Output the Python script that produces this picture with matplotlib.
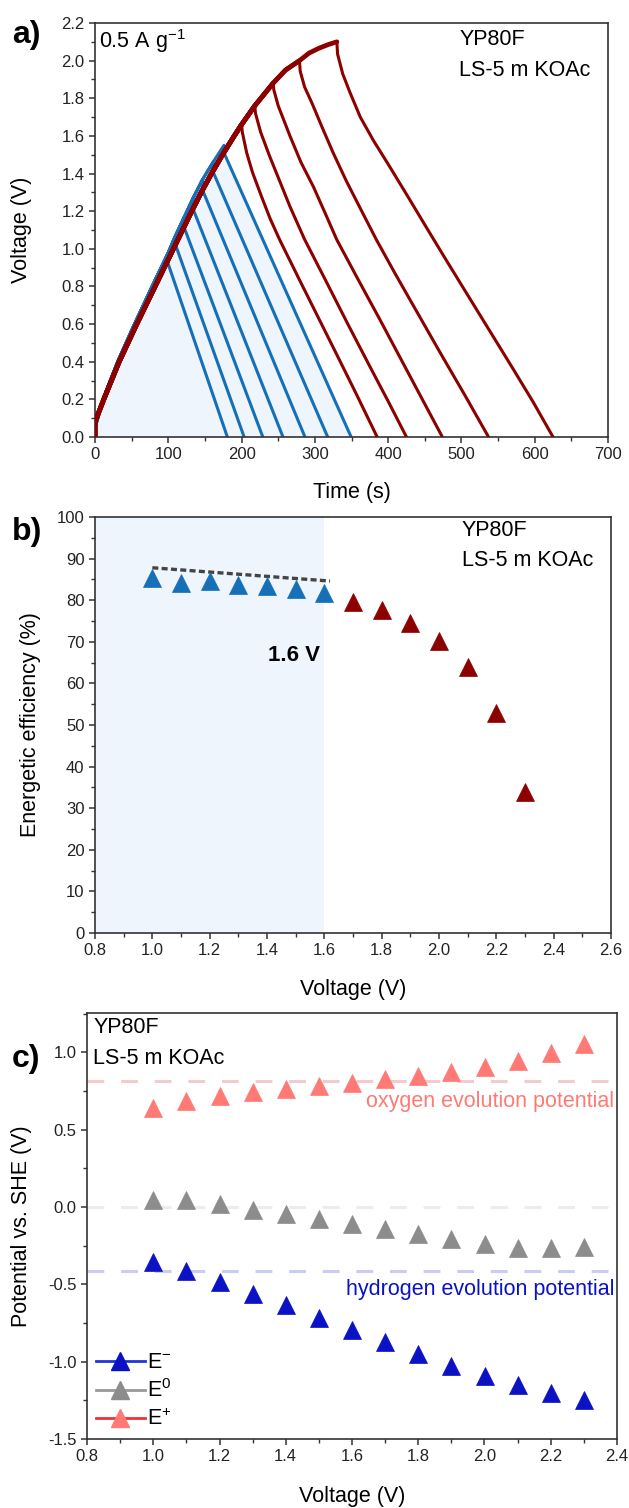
import numpy as np
import matplotlib
matplotlib.use('Agg')
import matplotlib.pyplot as plt
from matplotlib.lines import Line2D
from matplotlib.ticker import FormatStrFormatter

plt.rcParams['font.family'] = ['Liberation Sans', 'DejaVu Sans']
plt.rcParams['axes.linewidth'] = 1.2
plt.rcParams['axes.edgecolor'] = '#333333'
plt.rcParams['xtick.color'] = '#333333'
plt.rcParams['ytick.color'] = '#333333'
plt.rcParams['xtick.labelcolor'] = '#222222'
plt.rcParams['ytick.labelcolor'] = '#222222'

BLUE = '#1570b8'
DARKRED = '#8c0000'
FILL = '#eef5fc'

# ---- panel a: galvanostatic charge/discharge ----
# blue charge envelope (windows 1.0 ... 1.6 V)
blue_env_t = [0, 0, 11, 31, 54, 78, 99, 110, 122, 134, 147, 161, 176]
blue_env_v = [0, 0.05, 0.2, 0.4, 0.6, 0.8, 0.97, 1.07, 1.17, 1.27, 1.37, 1.46, 1.55]
blue_peak_t = [99, 110, 122, 134, 147, 161, 176]
blue_drop_v = [0.93, 1.02, 1.11, 1.21, 1.31, 1.41, 1.51]
blue_end_t = [180.6, 203.5, 229.0, 256.5, 286.5, 317.5, 349.5]

# red charge envelope (windows 1.7 ... 2.1 V)
red_env_t = [0, 0, 12, 33, 57, 82, 107, 132, 145, 159, 174, 190, 200, 218, 243, 260, 279, 292, 305, 318, 330]
red_env_v = [0, 0.08, 0.2, 0.4, 0.6, 0.8, 1.0, 1.2, 1.3, 1.4, 1.5, 1.6, 1.66, 1.76, 1.88, 1.95, 2.0, 2.04, 2.065, 2.085, 2.1]
red_peak_t = [200, 218, 243, 279, 330]
red_dis_t = [
    [200, 201, 207, 215, 227, 239, 252, 279, 304, 329, 357, 385],
    [218, 219, 226, 238, 252, 266, 286, 315, 345, 375, 400, 425],
    [243, 244, 250, 258, 266, 281, 298, 314, 330, 360, 390, 420, 448, 474],
    [279, 280, 286, 296, 310, 325, 343, 362, 384, 410, 440, 470, 505, 537],
    [330, 331, 338, 348, 362, 380, 400, 425, 452, 480, 510, 540, 570, 598, 625],
]
red_dis_v = [
    [1.66, 1.62, 1.51, 1.405, 1.28, 1.16, 1.048, 0.835, 0.64, 0.445, 0.225, 0],
    [1.76, 1.72, 1.62, 1.495, 1.36, 1.225, 1.05, 0.83, 0.60, 0.375, 0.19, 0],
    [1.88, 1.845, 1.76, 1.68, 1.60, 1.46, 1.33, 1.19, 1.048, 0.83, 0.615, 0.395, 0.19, 0],
    [2.0, 1.944, 1.86, 1.775, 1.645, 1.51, 1.36, 1.215, 1.048, 0.865, 0.66, 0.455, 0.22, 0],
    [2.1, 2.035, 1.93, 1.83, 1.70, 1.575, 1.45, 1.29, 1.115, 0.935, 0.745, 0.555, 0.365, 0.185, 0],
]

# ---- panel b: energetic efficiency ----
eff_v_blue = [1.0, 1.1, 1.2, 1.3, 1.4, 1.5, 1.6]
eff_blue = [85.4, 84.2, 84.6, 83.7, 83.3, 82.6, 81.8]
eff_v_red = [1.7, 1.8, 1.9, 2.0, 2.1, 2.2, 2.3]
eff_red = [79.6, 77.6, 74.6, 70.2, 64.0, 53.0, 33.9]
trend_x = [1.0, 1.62]
trend_y = [87.8, 84.6]

# ---- panel c: electrode potentials ----
cell_v = [1.0, 1.1, 1.2, 1.3, 1.4, 1.5, 1.6, 1.7, 1.8, 1.9, 2.0, 2.1, 2.2, 2.3]
e_plus = [0.642, 0.685, 0.716, 0.744, 0.765, 0.784, 0.804, 0.828, 0.845, 0.873, 0.905, 0.942, 0.998, 1.052]
e_zero = [0.047, 0.043, 0.017, -0.017, -0.047, -0.080, -0.108, -0.144, -0.172, -0.209, -0.237, -0.263, -0.263, -0.259]
e_minus = [-0.356, -0.414, -0.485, -0.560, -0.636, -0.718, -0.797, -0.873, -0.953, -1.030, -1.095, -1.153, -1.200, -1.245]
oep = 0.815
hep = -0.414

W, H = 629, 1508
fig = plt.figure(figsize=(W / 100, H / 100), dpi=100)


def box(l, t, r, b):
    return [l / W, 1 - b / H, (r - l) / W, (b - t) / H]


axa = fig.add_axes(box(95, 23, 608, 437))
axb = fig.add_axes(box(95, 517, 611, 933))
axc = fig.add_axes(box(87, 1013, 617, 1439))

TICK = 12
LAB = 15.5
ANN = 15.5

for ax in (axa, axb, axc):
    ax.tick_params(which='major', direction='out', length=4.5, width=1.1, labelsize=TICK, pad=3)
    ax.tick_params(which='minor', direction='out', length=2.8, width=1.0)

# panel a
env_t = np.array(blue_env_t)
env_v = np.array(blue_env_v)
last = len(blue_peak_t) - 1
for i, pt in enumerate(blue_peak_t):
    m = env_t <= pt
    tt = list(env_t[m]) + [pt, blue_end_t[i]]
    vv = list(env_v[m]) + [blue_drop_v[i], 0]
    if i == last:
        axa.fill(tt, vv, color=FILL, lw=0, zorder=1)
    axa.plot(tt, vv, color=BLUE, lw=2.2, zorder=2)

renv_t = np.array(red_env_t)
renv_v = np.array(red_env_v)
for i, pt in enumerate(red_peak_t):
    m = renv_t <= pt
    # overlapping charge branches look like a thicker band
    axa.plot(renv_t[m], renv_v[m], color=DARKRED, lw=3.4, zorder=3, solid_capstyle='round')
    axa.plot(red_dis_t[i], red_dis_v[i], color=DARKRED, lw=2.2, zorder=3, solid_joinstyle='round')

axa.set_xlim(0, 700)
axa.set_ylim(0, 2.2)
axa.set_xticks(np.arange(0, 701, 100))
axa.set_xticks(np.arange(0, 701, 50), minor=True)
axa.set_yticks(np.arange(0, 2.21, 0.2))
axa.set_yticks(np.arange(0, 2.21, 0.1), minor=True)
axa.yaxis.set_major_formatter(FormatStrFormatter('%.1f'))
axa.set_xlabel('Time (s)', fontsize=LAB)
axa.set_ylabel('Voltage (V)', fontsize=LAB)
axa.xaxis.set_label_coords(0.5, -0.108)
axa.yaxis.set_label_coords(-0.123, 0.5)
axa.text(6, 2.103, r'0.5 A g$^{\mathregular{-1}}$', fontsize=ANN, va='center', ha='left')
axa.text(497, 2.111, 'YP80F', fontsize=ANN, va='center', ha='left')
axa.text(497, 1.95, 'LS-5 m KOAc', fontsize=ANN, va='center', ha='left')

# panel b
axb.axvspan(0.8, 1.6, color=FILL, lw=0, zorder=0)
axb.plot(trend_x, trend_y, color='#444444', lw=2.4, dashes=(1.8, 1.0), zorder=2)
axb.plot(eff_v_blue, eff_blue, ls='none', marker='^', ms=12.5, color=BLUE, mec=BLUE, mew=0.5, zorder=3)
axb.plot(eff_v_red, eff_red, ls='none', marker='^', ms=12.5, color=DARKRED, mec=DARKRED, mew=0.5, zorder=3)
axb.set_xlim(0.8, 2.6)
axb.set_ylim(0, 100)
axb.set_xticks(np.arange(0.8, 2.61, 0.2))
axb.set_xticks(np.arange(0.8, 2.61, 0.1), minor=True)
axb.set_yticks(np.arange(0, 101, 10))
axb.set_yticks(np.arange(0, 101, 5), minor=True)
axb.xaxis.set_major_formatter(FormatStrFormatter('%.1f'))
axb.set_xlabel('Voltage (V)', fontsize=LAB)
axb.set_ylabel('Energetic efficiency (%)', fontsize=LAB)
axb.xaxis.set_label_coords(0.5, -0.11)
axb.yaxis.set_label_coords(-0.105, 0.5)
axb.text(1.495, 66.7, '1.6 V', fontsize=16, fontweight='bold', ha='center', va='center')
axb.text(2.08, 96.8, 'YP80F', fontsize=ANN, va='center', ha='left')
axb.text(2.08, 89.6, 'LS-5 m KOAc', fontsize=ANN, va='center', ha='left')

# panel c
CM = '#0a12c4'
CG = '#8c8c8c'
CP = '#ff7a75'
axc.axhline(oep, color='#f2cccc', lw=2.2, dashes=(5.5, 5.5), zorder=1)
axc.axhline(0, color='#ececec', lw=2.2, dashes=(5.5, 5.5), zorder=1)
axc.axhline(hep, color='#ccccf2', lw=2.2, dashes=(5.5, 5.5), zorder=1)
axc.plot(cell_v, e_plus, ls='none', marker='^', ms=12.5, color=CP, mec=CP, mew=0.5, zorder=3)
axc.plot(cell_v, e_zero, ls='none', marker='^', ms=12.5, color=CG, mec=CG, mew=0.5, zorder=3)
axc.plot(cell_v, e_minus, ls='none', marker='^', ms=12.5, color=CM, mec=CM, mew=0.5, zorder=3)
axc.set_xlim(0.8, 2.4)
axc.set_ylim(-1.5, 1.254)
axc.set_xticks(np.arange(0.8, 2.41, 0.2))
axc.set_xticks(np.arange(0.8, 2.41, 0.1), minor=True)
axc.set_yticks(np.arange(-1.5, 1.01, 0.5))
axc.set_yticks(np.arange(-1.5, 1.26, 0.25), minor=True)
axc.xaxis.set_major_formatter(FormatStrFormatter('%.1f'))
axc.yaxis.set_major_formatter(FormatStrFormatter('%.1f'))
axc.set_xlabel('Voltage (V)', fontsize=LAB)
axc.set_ylabel('Potential vs. SHE (V)', fontsize=LAB)
axc.xaxis.set_label_coords(0.5, -0.11)
axc.yaxis.set_label_coords(-0.104, 0.5)
axc.text(0.819, 1.16, 'YP80F', fontsize=ANN, va='center', ha='left')
axc.text(0.819, 0.957, 'LS-5 m KOAc', fontsize=ANN, va='center', ha='left')
axc.text(2.392, 0.681, 'oxygen evolution potential', fontsize=ANN, color=CP, ha='right', va='center')
axc.text(2.392, -0.532, 'hydrogen evolution potential', fontsize=ANN, color=CM, ha='right', va='center')

handles = [
    Line2D([], [], color='#2233dd', lw=2, marker='^', ms=12.5, mfc=CM, mec=CM),
    Line2D([], [], color='#999999', lw=2, marker='^', ms=12.5, mfc=CG, mec=CG),
    Line2D([], [], color='#ee3333', lw=2, marker='^', ms=12.5, mfc=CP, mec=CP),
]
axc.legend(handles, [r'E$^{\mathregular{-}}$', r'E$^{\mathregular{0}}$', r'E$^{\mathregular{+}}$'],
           loc='lower left', frameon=False, fontsize=ANN, handlelength=2.3,
           handletextpad=0.1, labelspacing=0.3, borderaxespad=0.2, borderpad=0.2)

# panel letters
for lbl, top in (('a)', 20), ('b)', 517), ('c)', 1044)):
    fig.text(12 / W, 1 - top / H, lbl, fontsize=23, fontweight='bold', va='top', ha='left')

fig.savefig('out.png', dpi=100)
